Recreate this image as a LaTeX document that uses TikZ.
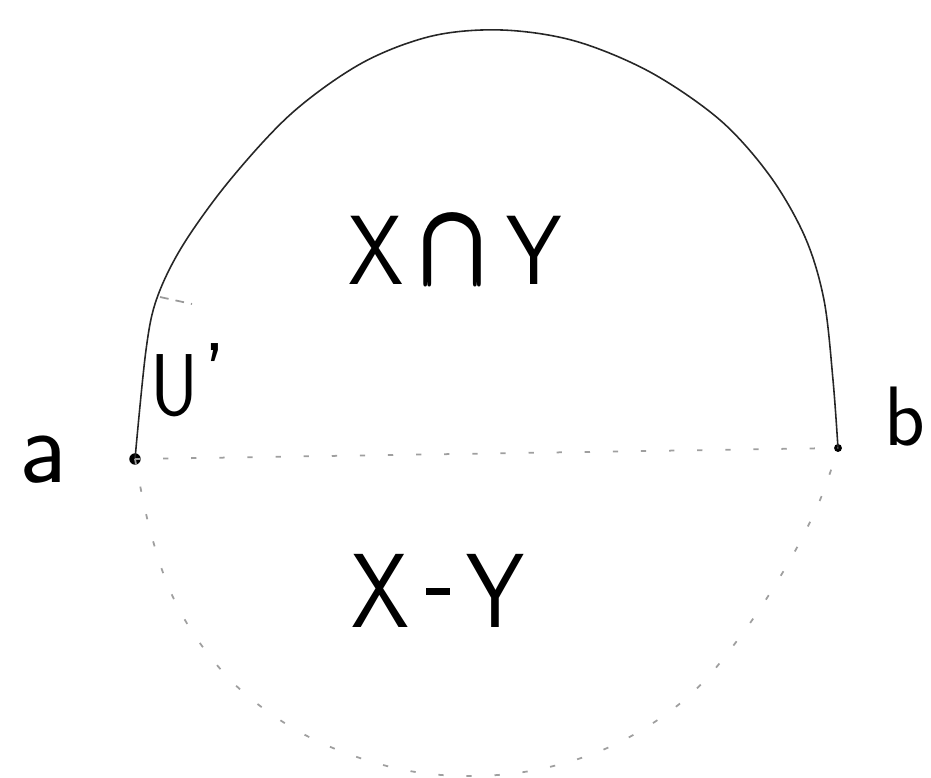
\documentclass[tikz,border=0pt]{standalone}
\usepackage{graphicx}
\usepackage{amsmath}
\begin{document}
\begin{tikzpicture}[x=0.02cm,y=-0.02cm,
  hand/.style={font=\sffamily\fontsize{56}{56}\selectfont, inner sep=0pt, anchor=base},
  outline/.style={line width=0.9pt, black!85, line join=round, line cap=round},
  sparse/.style={gray!75, line width=1pt, dash pattern=on 3pt off 13pt},
  tick/.style={gray!80, line width=1pt, dash pattern=on 5pt off 4pt},
  dotpt/.style={circle, fill=black, inner sep=0pt}]
\useasboundingbox (0,0) rectangle (931,778);
% end points
\node[dotpt, minimum size=6.5pt] (a) at (135,459) {};
\node[dotpt, minimum size=4.5pt] (b) at (838,448) {};
% upper (solid) arc
\draw[outline] plot[smooth, tension=0.55] coordinates {(a.center) (146,350) (157,298) (183,245) (230,180) (292,113) (362,63) (432,36) (502,30) (575,41) (650,72) (720,120) (770,176) (805,237) (824,300) (833,380) (b.center)};
% lower (dotted) arc
\draw[sparse] plot[smooth, tension=0.6] coordinates {(a.center) (150,530) (172,595) (205,650) (250,698) (315,740) (395,768) (470,776) (545,768) (620,742) (690,695) (745,630) (790,560) (820,500) (b.center)};
% chord
\draw[sparse] (a.center) -- (b.center);
% small tick on the arc
\coordinate (t1) at (160,297);
\coordinate (t2) at (192,304);
\draw[tick] (t1) -- (t2);
% labels
\node[hand, font=\sffamily\fontsize{60}{60}\selectfont] (la) at (43,482) {a};
\node[hand, font=\sffamily\fontsize{48}{48}\selectfont] (lb) at (905,445) {b};
\node[hand, anchor=base west, font=\sffamily\fontsize{50}{50}\selectfont] (lu) at (150,415) {\scalebox{0.85}[1]{U}\kern3pt\raisebox{6pt}{'}};
\node[hand] (xy) at (455,284) {\scalebox{0.9}[1]{X}\hspace{11pt}\scalebox{2.2}[2.6]{$\pmb{\cap}$}\hspace{11pt}\scalebox{0.9}[1]{Y}};
\node[hand, font=\sffamily\fontsize{60}{60}\selectfont] (xmy) at (438,627) {\scalebox{0.88}[1]{X\hspace{11pt}\rule[18pt]{15pt}{4pt}\hspace{11pt}Y}};
\end{tikzpicture}
\end{document}
